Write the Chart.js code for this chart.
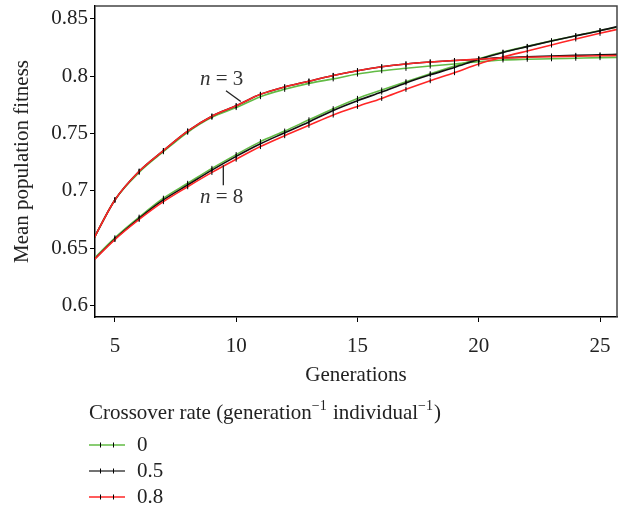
<!DOCTYPE html>
<html>
<head>
<meta charset="utf-8">
<script src="https://cdn.jsdelivr.net/npm/chart.js@4"></script>
<style>
html, body { margin: 0; padding: 0; background: #fff; }
</style>
</head>
<body>
<canvas id="grafico" width="622" height="509"></canvas>
<script>
'use strict';

// Generaciones (eje x)
const generaciones = [4, 5, 6, 7, 8, 9, 10, 11, 12, 13, 14, 15, 16, 17, 18, 19, 20, 21, 22, 23, 24, 25, 26];

// Tasa de cruce
const tasas = ['0', '0.5', '0.8'];

// n = 3
const n3_tasa0  = [0.653, 0.692, 0.716, 0.734, 0.751, 0.764, 0.7725, 0.782, 0.7884, 0.7936, 0.7975, 0.8017, 0.8046, 0.8067, 0.8087, 0.8105, 0.8125, 0.814, 0.8146, 0.815, 0.8155, 0.816, 0.8163];
const n3_tasa05 = [0.653, 0.692, 0.717, 0.735, 0.752, 0.765, 0.774, 0.784, 0.7905, 0.7955, 0.8005, 0.8046, 0.808, 0.8105, 0.8122, 0.8135, 0.8146, 0.816, 0.8167, 0.8174, 0.818, 0.8185, 0.819];
const n3_tasa08 = [0.653, 0.692, 0.717, 0.735, 0.752, 0.765, 0.774, 0.784, 0.7905, 0.7955, 0.8005, 0.8046, 0.808, 0.8105, 0.8122, 0.8135, 0.8146, 0.8157, 0.8163, 0.8168, 0.8172, 0.8176, 0.818];

// n = 8
const n8_tasa0  = [0.638, 0.659, 0.677, 0.6935, 0.7065, 0.7195, 0.7315, 0.7428, 0.752, 0.7618, 0.7715, 0.7805, 0.7878, 0.795, 0.802, 0.8087, 0.815, 0.8208, 0.8258, 0.8306, 0.8351, 0.8396, 0.844];
const n8_tasa05 = [0.637, 0.658, 0.676, 0.692, 0.705, 0.718, 0.730, 0.741, 0.7505, 0.760, 0.770, 0.7785, 0.786, 0.794, 0.801, 0.8075, 0.8145, 0.8205, 0.8256, 0.8305, 0.835, 0.8395, 0.8445];
const n8_tasa08 = [0.637, 0.6575, 0.675, 0.6905, 0.7035, 0.716, 0.7275, 0.7385, 0.748, 0.757, 0.766, 0.7735, 0.7805, 0.7884, 0.7959, 0.8029, 0.8105, 0.8165, 0.8218, 0.827, 0.8323, 0.8372, 0.842];

// Marcas de los ejes
const ticksX = [5, 10, 15, 20, 25];
const ticksY = [0.6, 0.65, 0.7, 0.75, 0.8, 0.85];

const colores = ['#62bb45', '#111111', '#ff2626'];
const coloresLeyenda = ['#62bb45', '#444444', '#ff2626'];
const FUENTE = '"Liberation Serif", "Times New Roman", serif';
const TAM = 21;

function serie(valores, i) {
    return {
        label: tasas[i],
        data: generaciones.map((g, k) => ({ x: g, y: valores[k] })),
        borderColor: colores[i],
        borderWidth: 1.6,
        pointStyle: 'line',
        pointRotation: 90,
        pointRadius: 2.5,
        pointHoverRadius: 2.5,
        pointBorderColor: '#000',
        pointBorderWidth: 1,
        cubicInterpolationMode: 'monotone',
        fill: false,
        order: 2 - i   // rojo encima
    };
}

// etiquetas n = 3 / n = 8
const anotaciones = [
    { valor: '3', x: 8.51, y: 0.7921, linea: [[9.58, 0.7872], [10.19, 0.7777]] },
    { valor: '8', x: 8.51, y: 0.6894, linea: [[9.47, 0.7223], [9.47, 0.7049]] }
];

const pluginMarco = {
    id: 'marco',
    afterDatasetsDraw(chart) {
        const { ctx, chartArea: a, scales } = chart;
        ctx.save();
        ctx.strokeStyle = '#444';
        ctx.lineWidth = 1.5;
        ctx.beginPath();
        ctx.moveTo(a.left, a.top);
        ctx.lineTo(a.right, a.top);
        ctx.lineTo(a.right, a.bottom);
        ctx.stroke();

        // anotaciones
        ctx.fillStyle = '#333';
        ctx.strokeStyle = '#222';
        ctx.lineWidth = 1.3;
        ctx.textBaseline = 'alphabetic';
        for (let an of anotaciones) {
            const px = scales.x.getPixelForValue(an.x);
            const py = scales.y.getPixelForValue(an.y);
            ctx.font = 'italic ' + TAM + 'px ' + FUENTE;
            ctx.fillText('n', px, py);
            const w = ctx.measureText('n').width;
            ctx.font = TAM + 'px ' + FUENTE;
            ctx.fillText(' = ' + an.valor, px + w, py);
            ctx.beginPath();
            ctx.moveTo(scales.x.getPixelForValue(an.linea[0][0]), scales.y.getPixelForValue(an.linea[0][1]));
            ctx.lineTo(scales.x.getPixelForValue(an.linea[1][0]), scales.y.getPixelForValue(an.linea[1][1]));
            ctx.stroke();
        }
        ctx.restore();
    }
};

const pluginLeyenda = {
    id: 'leyenda',
    afterDraw(chart) {
        const ctx = chart.ctx;
        ctx.save();
        ctx.fillStyle = '#222';
        ctx.textBaseline = 'middle';
        let x = 89;
        const yTitulo = 413;
        const partes = [
            ['Crossover rate (generation', false],
            ['\u22121', true],
            [' individual', false],
            ['\u22121', true],
            [')', false]
        ];
        for (let [t, sup] of partes) {
            ctx.font = (sup ? '14px ' : TAM + 'px ') + FUENTE;
            ctx.fillText(t, x, sup ? yTitulo - 7 : yTitulo);
            x += ctx.measureText(t).width + (sup ? 1 : 0);
        }

        const filas = [445, 471, 497];
        ctx.font = TAM + 'px ' + FUENTE;
        for (let i = 0; i < tasas.length; i++) {
            const y = filas[i];
            ctx.strokeStyle = coloresLeyenda[i];
            ctx.lineWidth = 1.6;
            ctx.beginPath();
            ctx.moveTo(89, y);
            ctx.lineTo(125, y);
            ctx.stroke();
            ctx.strokeStyle = '#000';
            ctx.lineWidth = 1;
            for (let mx of [100.5, 113.5]) {
                ctx.beginPath();
                ctx.moveTo(mx, y - 2.5);
                ctx.lineTo(mx, y + 2.5);
                ctx.stroke();
            }
            ctx.fillStyle = '#222';
            ctx.fillText(tasas[i], 137, y);
        }
        ctx.restore();
    }
};

new Chart('grafico', {
    type: 'line',
    data: {
        datasets: [
            serie(n3_tasa0, 0), serie(n3_tasa05, 1), serie(n3_tasa08, 2),
            serie(n8_tasa0, 0), serie(n8_tasa05, 1), serie(n8_tasa08, 2)
        ]
    },
    options: {
        responsive: false,
        animation: false,
        layout: { padding: { left: 0, top: 6, right: 5, bottom: 127 } },
        plugins: {
            legend: { display: false },
            tooltip: { enabled: false }
        },
        scales: {
            x: {
                type: 'linear',
                min: 4.18,
                max: 25.7,
                afterBuildTicks: s => { s.ticks = ticksX.map(v => ({ value: v })); },
                afterFit: s => { s.height = 65; s.paddingLeft = 0; s.paddingRight = 0; },
                grid: { drawOnChartArea: false, tickLength: 5, color: '#000' },
                border: { color: '#000', width: 1.5 },
                ticks: { color: '#222', font: { family: FUENTE, size: TAM }, padding: 12, maxRotation: 0 },
                title: { display: true, text: 'Generations', color: '#222', font: { family: FUENTE, size: TAM }, padding: { top: 0, bottom: -6 } }
            },
            y: {
                min: 0.59,
                max: 0.861,
                afterBuildTicks: s => { s.ticks = ticksY.map(v => ({ value: v })); },
                afterFit: s => { s.width = 95; s.paddingTop = 0; s.paddingBottom = 0; },
                grid: { drawOnChartArea: false, tickLength: 5, color: '#000' },
                border: { color: '#000', width: 1.5 },
                ticks: { color: '#222', font: { family: FUENTE, size: TAM }, padding: 2, callback: v => String(v) },
                title: { display: true, text: 'Mean population fitness', color: '#222', font: { family: FUENTE, size: TAM }, padding: { top: 10, bottom: 0 } }
            }
        }
    },
    plugins: [pluginMarco, pluginLeyenda]
});
</script>
</body>
</html>
